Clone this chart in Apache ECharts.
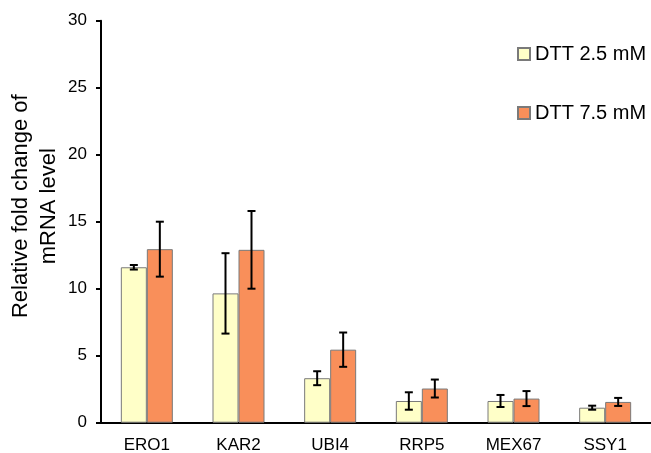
<!DOCTYPE html>
<html>
<head>
<meta charset="utf-8">
<script src="https://cdn.jsdelivr.net/npm/echarts@6/dist/echarts.min.js"></script>
<style>html,body{margin:0;padding:0;background:#fff;}#c{width:651px;height:453px;}</style>
</head>
<body>
<div id="c"></div>
<script>
var categories = ['ERO1', 'KAR2', 'UBI4', 'RRP5', 'MEX67', 'SSY1'];
var seriesNames = ['DTT 2.5 mM', 'DTT 7.5 mM'];
var dtt25 = [11.6, 9.65, 3.32, 1.62, 1.62, 1.12];
var dtt25Err = [0.17, 3.0, 0.52, 0.65, 0.45, 0.15];
var dtt75 = [12.95, 12.9, 5.45, 2.55, 1.8, 1.55];
var dtt75Err = [2.05, 2.9, 1.28, 0.67, 0.56, 0.3];
var yTicks = [0, 5, 10, 15, 20, 25, 30];

var BAR_W = 26;
var FONT = 'Liberation Sans, Arial, sans-serif';

function errSeries(vals, errs, offset) {
  return {
    type: 'custom',
    z: 10,
    silent: true,
    data: vals.map(function (v, i) { return [i, v - errs[i], v + errs[i]]; }),
    renderItem: function (params, api) {
      var lo = api.coord([api.value(0), api.value(1)]);
      var hi = api.coord([api.value(0), api.value(2)]);
      var x = lo[0] + offset;
      var hw = 4;
      var st = { stroke: '#000', lineWidth: 2 };
      return {
        type: 'group',
        children: [
          { type: 'line', shape: { x1: x, y1: lo[1], x2: x, y2: hi[1] }, style: st },
          { type: 'line', shape: { x1: x - hw, y1: lo[1], x2: x + hw, y2: lo[1] }, style: st },
          { type: 'line', shape: { x1: x - hw, y1: hi[1], x2: x + hw, y2: hi[1] }, style: st }
        ]
      };
    },
    encode: { x: 0, y: [1, 2] }
  };
}

var chart = echarts.init(document.getElementById('c'), null, { renderer: 'canvas' });
chart.setOption({
  animation: false,
  backgroundColor: '#fff',
  textStyle: { fontFamily: FONT },
  grid: { left: 101, right: 0, top: 20.7, bottom: 30.3, containLabel: false, outerBoundsMode: 'none' },
  legend: {
    orient: 'vertical',
    left: 512,
    top: 39,
    itemWidth: 12,
    itemHeight: 12,
    itemGap: 39,
    icon: 'rect',
    data: seriesNames,
    textStyle: { fontSize: 20, color: '#000', fontFamily: FONT, lineHeight: 20, padding: [0, 0, 0, 0] },
    selectedMode: false
  },
  xAxis: {
    type: 'category',
    data: categories,
    axisLine: { lineStyle: { color: '#000', width: 2 } },
    axisTick: { show: false },
    axisLabel: { color: '#000', fontSize: 17, margin: 14, fontFamily: FONT }
  },
  yAxis: {
    type: 'value',
    min: yTicks[0],
    max: yTicks[yTicks.length - 1],
    interval: 5,
    name: 'Relative fold change of\nmRNA level',
    nameLocation: 'middle',
    nameRotate: 90,
    nameGap: 38,
    nameMoveOverlap: false,
    nameTextStyle: { fontSize: 22, color: '#000', lineHeight: 28, fontFamily: FONT, padding: [0, 0, 0, 31] },
    axisLine: { show: true, lineStyle: { color: '#000', width: 2 } },
    axisTick: { show: true, length: 5, lineStyle: { color: '#000', width: 2 } },
    splitLine: { show: false },
    axisLabel: { color: '#000', fontSize: 17, margin: 14, fontFamily: FONT }
  },
  series: [
    {
      name: seriesNames[0],
      type: 'bar',
      data: dtt25,
      barWidth: BAR_W,
      barGap: '0%',
      itemStyle: { color: '#FFFFC8', borderColor: '#7a7a7a', borderWidth: 1 }
    },
    {
      name: seriesNames[1],
      type: 'bar',
      data: dtt75,
      barWidth: BAR_W,
      barGap: '0%',
      itemStyle: { color: '#F98F5A', borderColor: '#7a7a7a', borderWidth: 1 }
    },
    errSeries(dtt25, dtt25Err, -BAR_W / 2),
    errSeries(dtt75, dtt75Err, BAR_W / 2)
  ]
});
</script>
</body>
</html>
